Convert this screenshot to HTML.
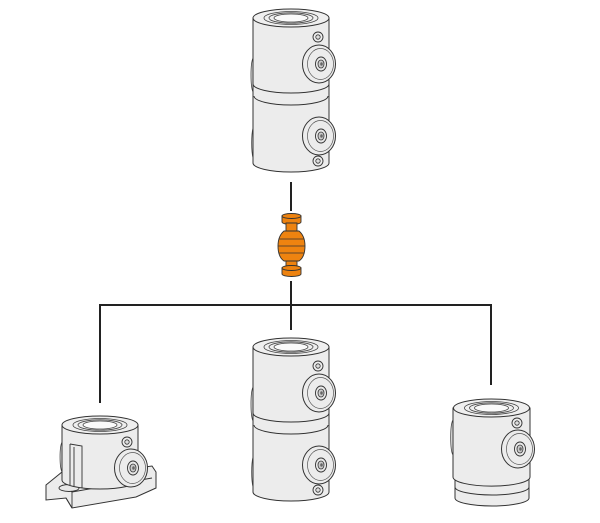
<!DOCTYPE html>
<html><head><style>
html,body{margin:0;padding:0;background:#fff;width:600px;height:523px;overflow:hidden}
svg{display:block}
</style></head><body>
<svg width="600" height="523" viewBox="0 0 600 523" xmlns="http://www.w3.org/2000/svg">
<defs>
<g id="boss">
  <ellipse cx="0" cy="0" rx="16.5" ry="19" fill="#ececec" stroke="#333" stroke-width="1"/>
  <ellipse cx="1.5" cy="0" rx="13" ry="15.5" fill="#ececec" stroke="#555" stroke-width="0.7"/>
  <ellipse cx="2" cy="0" rx="5.5" ry="7" fill="#e8e8e8" stroke="#333" stroke-width="0.9"/>
  <ellipse cx="2" cy="0" rx="3" ry="4" fill="#ccc" stroke="#333" stroke-width="0.8"/>
  <ellipse cx="2.5" cy="0" rx="1.3" ry="1.8" fill="#666"/>
</g>
<g id="screw">
  <circle cx="0" cy="0" r="5" fill="#eee" stroke="#333" stroke-width="0.9"/>
  <circle cx="0" cy="0" r="2.2" fill="#ddd" stroke="#333" stroke-width="0.8"/>
</g>
<g id="topface">
  <ellipse cx="0" cy="0" rx="38" ry="9" fill="#efefef" stroke="#333" stroke-width="1"/>
  <ellipse cx="0" cy="0" rx="27" ry="6.5" fill="#efefef" stroke="#444" stroke-width="0.8"/>
  <ellipse cx="0" cy="0" rx="22" ry="5.2" fill="#efefef" stroke="#444" stroke-width="0.8"/>
  <ellipse cx="0" cy="0" rx="17" ry="4" fill="#fafafa" stroke="#444" stroke-width="0.8"/>
</g>
<g id="double">
  <path d="M-38,40 A3,18 0 0 0 -38,74" fill="#e5e5e5" stroke="#444" stroke-width="0.8"/>
  <path d="M-38,110 A3,18 0 0 0 -38,140" fill="#e5e5e5" stroke="#444" stroke-width="0.8"/>
  <path d="M-38,0 L-38,145 A38,9 0 0 0 38,145 L38,0 Z" fill="#ececec" stroke="#333" stroke-width="1"/>
  <path d="M-38,66 A38,9 0 0 0 38,66" fill="none" stroke="#333" stroke-width="1"/>
  <path d="M-37,78 A37,9 0 0 0 37,78" fill="none" stroke="#333" stroke-width="1"/>
  <use href="#topface"/>
  <use href="#screw" x="27" y="19"/>
  <use href="#boss" x="28" y="46"/>
  <use href="#boss" x="28" y="118"/>
  <use href="#screw" x="27" y="143"/>
</g>
</defs>

<g stroke="#222" stroke-width="2" fill="none">
  <line x1="291" y1="182" x2="291" y2="211"/>
  <line x1="291" y1="281" x2="291" y2="330"/>
  <polyline points="100,403 100,305 491,305 491,385"/>
</g>

<use href="#double" x="291" y="18"/>
<use href="#double" x="291" y="347"/>

<g fill="#ee8310" stroke="#333" stroke-width="0.9">
  <path d="M282,216 L282,222 A9.5,2.5 0 0 0 301,222 L301,216 Z"/>
  <ellipse cx="291.5" cy="216" rx="9.5" ry="2.5"/>
  <path d="M286,223 L286,231 L297,231 L297,223 Z"/>
  <path d="M284,231 Q278,236 278,246 Q278,257 284,261 L299,261 Q305,257 305,246 Q305,236 299,231 Z"/>
  <path d="M279,239 L304,239 M278,246 L305,246 M279,253 L304,253" fill="none" stroke-width="0.7"/>
  <path d="M286,261 L286,268 L297,268 L297,261 Z"/>
  <path d="M282,268 L282,274 A9.5,2.5 0 0 0 301,274 L301,268 Z"/>
  <ellipse cx="291.5" cy="268" rx="9.5" ry="2.5"/>
</g>

<g>
  <path d="M453,420 A3,18 0 0 0 453,455" fill="#e5e5e5" stroke="#444" stroke-width="0.8"/>
  <path d="M455,478 L455,498 A37,8 0 0 0 529,498 L529,478 Z" fill="#ececec" stroke="#333" stroke-width="1"/>
  <path d="M453,408 L453,477 A38,9 0 0 0 530,477 L530,408 Z" fill="#ececec" stroke="#333" stroke-width="1"/>
  <path d="M455,487 A37,8 0 0 0 529,487" fill="none" stroke="#333" stroke-width="1"/>
  <use href="#topface" x="491.5" y="408"/>
  <use href="#screw" x="517" y="423"/>
  <use href="#boss" x="518" y="449"/>
</g>

<g>
  <path d="M46,485 L62,472 L138,468 L152,466 L156,472 L156,488 L136,497 L72,508 L66,498 L46,500 Z" fill="#ececec" stroke="#333" stroke-width="1"/>
  <path d="M46,485 L46,500 M66,498 L72,508 M72,492 L152,478 M62,485 L72,492 L72,508" fill="none" stroke="#333" stroke-width="0.9"/>
  <ellipse cx="69" cy="488" rx="10" ry="3.5" fill="#e8e8e8" stroke="#333" stroke-width="0.9"/>
  <path d="M62,442 A3,16 0 0 0 62,472" fill="#e5e5e5" stroke="#444" stroke-width="0.8"/>
  <path d="M62,425 L62,480 A38,9 0 0 0 138,480 L138,425 Z" fill="#ececec" stroke="#333" stroke-width="1"/>
  <path d="M70,444 L70,485 M70,444 L82,446 L82,488 M74,447 L74,486" fill="none" stroke="#333" stroke-width="0.9"/>
  <use href="#topface" x="100" y="425"/>
  <use href="#screw" x="127" y="442"/>
  <use href="#boss" x="131" y="468"/>
</g>
</svg>
</body></html>
